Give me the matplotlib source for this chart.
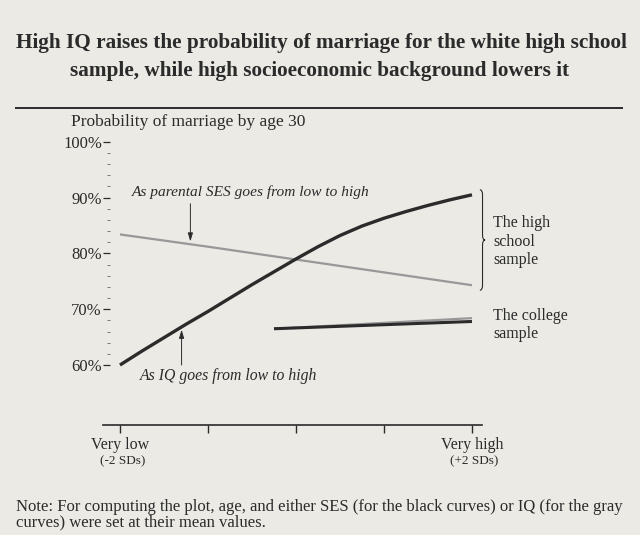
import numpy as np
import matplotlib
matplotlib.use("Agg")
import matplotlib.pyplot as plt
from matplotlib.path import Path
from matplotlib.patches import PathPatch
from matplotlib.lines import Line2D
from matplotlib.ticker import FixedLocator, NullFormatter

# ── Données ───────────────────────────────────────────────────────────────────
sd_hs = [-2, -1.75, -1.5, -1.25, -1, -0.75, -0.5, -0.25, 0,
         0.25, 0.5, 0.75, 1, 1.25, 1.5, 1.75, 2]
iq_hs = [60.0, 62.5, 64.9, 67.3, 69.6, 72.0, 74.4, 76.7, 79.0,
         81.2, 83.2, 84.9, 86.3, 87.5, 88.6, 89.6, 90.5]            # black
sd_ses = [-2, -1, 0, 1, 2]
ses_hs = [83.4, 81.2, 78.9, 76.6, 74.3]                             # gray

sd_col = [-0.25, 2]
iq_col = [66.5, 67.8]
ses_col = [66.5, 68.4]

x_ticks = [-2, -1, 0, 1, 2]
x_labels = ["Very low", "", "", "", "Very high"]
x_sub = {-2: "(-2 SDs)", 2: "(+2 SDs)"}
y_ticks = [60, 70, 80, 90, 100]
y_minor = [62, 64, 66, 68, 72, 74, 76, 78, 82, 84, 86, 88, 92, 94, 96, 98]

BG = "#ebeae5"
INK = "#2b2b2b"
GRAY = "#989898"
SERIF = ["Liberation Serif", "DejaVu Serif"]

plt.rcParams["font.family"] = SERIF
W, H = 640, 535


def px(x, y):
    return x / W, 1 - y / H


fig = plt.figure(figsize=(W / 100, H / 100), dpi=100, facecolor=BG)

# ── Titre ─────────────────────────────────────────────────────────────────────
fig.text(*px(321, 43), "High IQ raises the probability of marriage for the white high school",
         ha="center", va="center", fontsize=15.3, fontweight="bold", color=INK)
fig.text(*px(320, 71), "sample, while high socioeconomic background lowers it",
         ha="center", va="center", fontsize=15.3, fontweight="bold", color=INK)
fig.add_artist(Line2D([16 / W, 622 / W], [1 - 108 / H, 1 - 108 / H],
                      color=INK, lw=1.4))
fig.text(*px(71, 122), "Probability of marriage by age 30",
         ha="left", va="center", fontsize=12.5, color=INK)

# ── Axes ──────────────────────────────────────────────────────────────────────
ax = fig.add_axes([103 / W, 1 - 425 / H, 379 / W, (425 - 139) / H])
ax.set_facecolor("none")
ax.set_xlim(-2.193, 2.114)
ax.set_ylim(49.25, 100.5)

for s in ("top", "right"):
    ax.spines[s].set_visible(False)
ax.spines["left"].set_position(("data", -2.11))
ax.spines["left"].set_color("none")
ax.spines["bottom"].set_color(INK)
ax.spines["bottom"].set_linewidth(1.2)

ax.set_yticks(y_ticks)
ax.set_yticklabels([f"{v}%" for v in y_ticks])
ax.yaxis.set_minor_locator(FixedLocator(y_minor))
ax.yaxis.set_minor_formatter(NullFormatter())
ax.tick_params(axis="y", which="major", length=5, width=0.9, pad=1,
               colors=INK, labelsize=12)
ax.tick_params(axis="y", which="minor", length=2.2, width=0.7, colors="#777")

ax.set_xticks(x_ticks)
ax.set_xticklabels(x_labels)
ax.tick_params(axis="x", length=5.5, width=1, pad=3, colors=INK, labelsize=11.5)
for x, lab in x_sub.items():
    ax.annotate(lab, xy=(x + 0.03, 0), xycoords=("data", "axes fraction"),
                xytext=(0, -26), textcoords="offset points",
                ha="center", va="center", fontsize=9.5, color=INK)

# ── Courbes ───────────────────────────────────────────────────────────────────
ax.plot(sd_ses, ses_hs, color=GRAY, lw=1.6, solid_capstyle="butt")
ax.plot(sd_hs, iq_hs, color=INK, lw=2.4, solid_capstyle="butt",
        solid_joinstyle="round")
ax.plot(sd_col, ses_col, color=GRAY, lw=1.6, solid_capstyle="butt")
ax.plot(sd_col, iq_col, color=INK, lw=2.2, solid_capstyle="butt")

# ── Annotations ───────────────────────────────────────────────────────────────
arrow = dict(arrowstyle="-|>,head_length=0.5,head_width=0.15", color=INK,
             lw=0.7, shrinkA=0, shrinkB=2)
ses_at = -1.2
ax.annotate("", xy=(ses_at, np.interp(ses_at, sd_ses, ses_hs)),
            xytext=(ses_at, 88.9), arrowprops=arrow)
ax.text(-1.86, 91.05, "As parental SES goes from low to high", style="italic",
        ha="left", va="center", fontsize=11.1, color=INK)

iq_at = -1.3
ax.annotate("", xy=(iq_at, np.interp(iq_at, sd_hs, iq_hs)),
            xytext=(iq_at, 60.0), arrowprops=arrow)
ax.text(-1.77, 58.0, "As IQ goes from low to high", style="italic",
        ha="left", va="center", fontsize=11.3, color=INK)

# accolade de l'échantillon high school
top, bot = iq_hs[-1] + 0.9, ses_hs[-1] - 0.9
x0, w = 2.09, 0.06
mid, r = (top + bot) / 2, (top - bot) * 0.05
verts = [(x0, top), (x0 + w / 2, top), (x0 + w / 2, top - r),
         (x0 + w / 2, mid + r), (x0 + w / 2, mid), (x0 + w, mid),
         (x0 + w / 2, mid), (x0 + w / 2, mid - r),
         (x0 + w / 2, bot + r), (x0 + w / 2, bot), (x0, bot)]
codes = [Path.MOVETO, Path.CURVE3, Path.CURVE3, Path.LINETO, Path.CURVE3,
         Path.CURVE3, Path.CURVE3, Path.CURVE3, Path.LINETO, Path.CURVE3,
         Path.CURVE3]
ax.add_patch(PathPatch(Path(verts, codes), fc="none", ec=INK, lw=0.8,
                       clip_on=False))

for y, t in ((223, "The high"), (241.5, "school"), (260, "sample"),
             (316, "The college"), (334, "sample")):
    fig.text(*px(493, y), t, ha="left", va="center", fontsize=11.5, color=INK)

# ── Note ──────────────────────────────────────────────────────────────────────
fig.text(*px(16, 507), "Note: For computing the plot, age, and either SES (for the black "
         "curves) or IQ (for the gray", ha="left", va="center", fontsize=12, color=INK)
fig.text(*px(16, 522), "curves) were set at their mean values.",
         ha="left", va="center", fontsize=12, color=INK)

fig.savefig("out.png", dpi=100, facecolor=BG)
